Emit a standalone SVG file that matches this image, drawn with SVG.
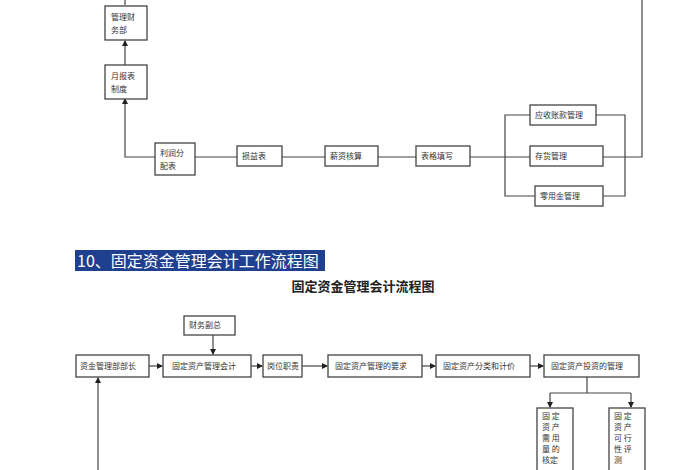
<svg xmlns="http://www.w3.org/2000/svg" width="700" height="470" viewBox="0 0 700 470">
<style>
.b{fill:#fff;stroke:#444;stroke-width:1.3}
.l{fill:none;stroke:#444;stroke-width:1.2}
.t{font-family:"Noto Sans CJK SC",sans-serif;font-size:8px;fill:#333}
</style>
<defs><marker id="a" viewBox="0 0 6 6" refX="5" refY="3" markerWidth="5" markerHeight="5" orient="auto"><path d="M0,0L6,3L0,6z" fill="#222"/></marker></defs>
<rect width="700" height="470" fill="#fff"/>
<g id="connectors">
<path class="l" d="M125,0V5"/>
<path class="l" d="M125,65V41" marker-end="url(#a)"/>
<path class="l" d="M155,157H125V99" marker-end="url(#a)"/>
<path class="l" d="M195,157H237M282,157H325M378,157H416M470,157H530M603,157H642V0"/>
<path class="l" d="M530,115H505V196H535M596,115H625V196H603"/>
<path class="l" d="M213,335V354" marker-end="url(#a)"/>
<path class="l" d="M149,366H162" marker-end="url(#a)"/>
<path class="l" d="M251,366H262" marker-end="url(#a)"/>
<path class="l" d="M302,366H327" marker-end="url(#a)"/>
<path class="l" d="M422,366H435" marker-end="url(#a)"/>
<path class="l" d="M530,366H543" marker-end="url(#a)"/>
<path class="l" d="M587,377V393M550,393H631"/>
<path class="l" d="M550,393V407" marker-end="url(#a)"/>
<path class="l" d="M631,393V407" marker-end="url(#a)"/>
<path class="l" d="M98,470V378" marker-end="url(#a)"/>
</g>
<g id="n1"><rect class="b" x="105" y="6" width="42" height="34"/><text class="t" x="111" y="20">管理财</text><text class="t" x="111" y="33">务部</text></g>
<g id="n2"><rect class="b" x="105" y="65" width="42" height="34"/><text class="t" x="111" y="79">月报表</text><text class="t" x="111" y="92">制度</text></g>
<g id="n3"><rect class="b" x="155" y="143" width="40" height="32"/><text class="t" x="160" y="156">利润分</text><text class="t" x="160" y="169">配表</text></g>
<g id="n4"><rect class="b" x="237" y="146" width="45" height="20"/><text class="t" x="242" y="159">损益表</text></g>
<g id="n5"><rect class="b" x="325" y="146" width="53" height="20"/><text class="t" x="330" y="159">薪资核算</text></g>
<g id="n6"><rect class="b" x="416" y="146" width="54" height="20"/><text class="t" x="421" y="159">表格填写</text></g>
<g id="n7"><rect class="b" x="530" y="105" width="66" height="20"/><text class="t" x="535" y="118">应收账款管理</text></g>
<g id="n8"><rect class="b" x="530" y="146" width="73" height="20"/><text class="t" x="535" y="159">存货管理</text></g>
<g id="n9"><rect class="b" x="535" y="186" width="68" height="20"/><text class="t" x="540" y="199">零用金管理</text></g>
<rect x="75" y="250" width="250" height="21" fill="#1f3f8f"/>
<text x="77" y="267" font-family="Noto Sans CJK SC,sans-serif" font-size="16" fill="#fff">10、固定资金管理会计工作流程图</text>
<text x="363" y="291" text-anchor="middle" font-family="Noto Sans CJK SC,serif" font-weight="bold" font-size="13" fill="#222">固定资金管理会计流程图</text>
<g id="m0"><rect class="b" x="184" y="316" width="51" height="19"/><text class="t" x="189" y="328">财务副总</text></g>
<g id="m1"><rect class="b" x="76" y="355" width="73" height="22"/><text class="t" x="80" y="369">资金管理部部长</text></g>
<g id="m2"><rect class="b" x="163" y="355" width="88" height="22"/><text class="t" x="172" y="369">固定资产管理会计</text></g>
<g id="m3"><rect class="b" x="263" y="355" width="39" height="22"/><text class="t" x="267" y="369">岗位职责</text></g>
<g id="m4"><rect class="b" x="328" y="355" width="94" height="22"/><text class="t" x="335" y="369">固定资产管理的要求</text></g>
<g id="m5"><rect class="b" x="436" y="355" width="94" height="22"/><text class="t" x="443" y="369">固定资产分类和计价</text></g>
<g id="m6"><rect class="b" x="544" y="355" width="95" height="22"/><text class="t" x="551" y="369">固定资产投资的管理</text></g>
<g id="m7"><rect class="b" x="537" y="408" width="36" height="70"/><text class="t" x="542" y="419">固 定</text><text class="t" x="542" y="430">资 产</text><text class="t" x="542" y="441">需 用</text><text class="t" x="542" y="452">量 的</text><text class="t" x="542" y="463">核定</text></g>
<g id="m8"><rect class="b" x="609" y="408" width="36" height="70"/><text class="t" x="614" y="419">固 定</text><text class="t" x="614" y="430">资 产</text><text class="t" x="614" y="441">可 行</text><text class="t" x="614" y="452">性 评</text><text class="t" x="614" y="463">测</text></g>
</svg>
